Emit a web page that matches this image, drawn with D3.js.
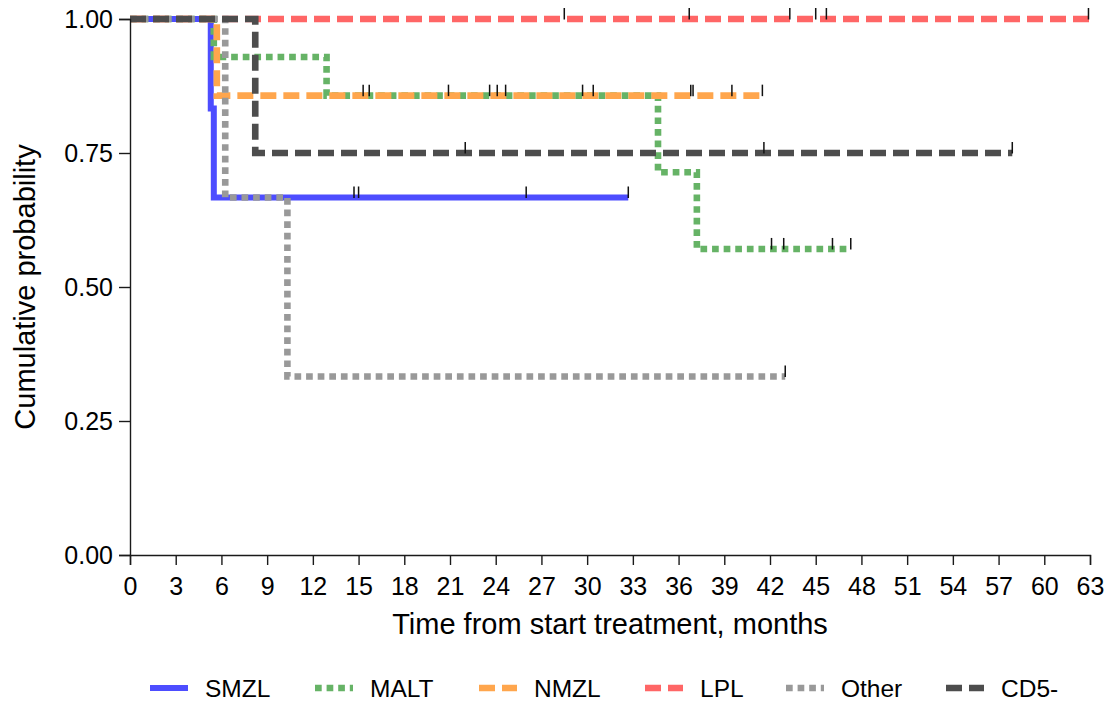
<!DOCTYPE html>
<html><head><meta charset="utf-8">
<script src="https://cdn.jsdelivr.net/npm/d3@7"></script>
<style>
html,body{margin:0;padding:0;background:#fff;}
text{font-family:"Liberation Sans",Arial,sans-serif;fill:#000;}
</style></head>
<body><svg id="chart" width="1110" height="704"></svg>
<script>
// ---- data ----
const groupNames = ["SMZL", "MALT", "NMZL", "LPL", "Other", "CD5-"];
const groupColors = ["#4d4dff", "#66b366", "#ffa64d", "#ff6666", "#999999", "#4d4d4d"];
const groupDash = ["solid", "dotted", "dashed", "dashed", "dotted", "dashed"];

// step points: [time, survival after time]
const smzlSteps = [[0, 1], [5.3, 0.833], [5.5, 0.667]];
const maltSteps = [[0, 1], [5.5, 0.929], [12.9, 0.857], [34.65, 0.714], [37.2, 0.571]];
const nmzlSteps = [[0, 1], [5.7, 0.857]];
const lplSteps = [[0, 1]];
const otherSteps = [[0, 1], [6.25, 0.667], [10.33, 0.333]];
const cd5Steps = [[0, 1], [8.22, 0.75]];

const smzlEnd = 32.7, maltEnd = 47.3, nmzlEnd = 41.5, lplEnd = 63, otherEnd = 43.0, cd5End = 57.9;

// censor times
const smzlCensor = [14.7, 15.0, 26.0, 32.7];
const maltCensor = [15.3, 20.9, 23.6, 24.65, 29.7, 30.4, 42.1, 42.9, 46.1, 47.3];
const nmzlCensor = [15.7, 24.1, 36.8, 36.95, 39.5, 41.5];
const lplCensor = [28.5, 36.7, 43.3, 45.0, 45.7, 62.9];
const otherCensor = [43.0];
const cd5Censor = [22.0, 41.6, 57.9];

const xTicks = d3.range(0, 64, 3);
const yTicks = [0, 0.25, 0.5, 0.75, 1];
const xTitle = "Time from start treatment, months";
const yTitle = "Cumulative probability";

const groups = [
  {steps: smzlSteps, end: smzlEnd, censor: smzlCensor},
  {steps: maltSteps, end: maltEnd, censor: maltCensor},
  {steps: nmzlSteps, end: nmzlEnd, censor: nmzlCensor},
  {steps: lplSteps, end: lplEnd, censor: lplCensor},
  {steps: otherSteps, end: otherEnd, censor: otherCensor},
  {steps: cd5Steps, end: cd5End, censor: cd5Censor}
].map((g, i) => Object.assign(g, {name: groupNames[i], color: groupColors[i], dash: groupDash[i]}));

// ---- layout ----
const svg = d3.select("#chart");
const pLeft = 130, pRight = 1090, pTop = 19, pBottom = 555;
const x = d3.scaleLinear().domain([0, 63]).range([pLeft, pRight]);
const y = d3.scaleLinear().domain([0, 1]).range([pBottom, pTop]);

function dashArray(d) {
  if (d === "dashed") return "16 7";
  if (d === "dotted") return "6.7 4.9";
  return null;
}
function survAt(g, t) {
  let s = 1;
  g.steps.forEach(p => { if (p[0] <= t) s = p[1]; });
  return s;
}
function stepPoints(g) {
  const pts = [];
  g.steps.forEach((p, i) => {
    if (i > 0) pts.push([p[0], g.steps[i - 1][1]]);
    pts.push(p);
  });
  pts.push([g.end, g.steps[g.steps.length - 1][1]]);
  return pts;
}

const line = d3.line().x(d => x(d[0])).y(d => y(d[1]));

// curves
const curveG = svg.append("g");
groups.forEach(g => {
  curveG.append("path")
    .datum(stepPoints(g))
    .attr("d", line)
    .attr("fill", "none")
    .attr("stroke", g.color)
    .attr("stroke-width", g.dash === "solid" ? 6 : 6.6)
    .attr("stroke-linecap", "butt")
    .attr("stroke-linejoin", "miter")
    .attr("stroke-dasharray", dashArray(g.dash));
});

// censor marks
const censG = svg.append("g");
groups.forEach(g => {
  g.censor.forEach(t => {
    const s = survAt(g, t);
    censG.append("line")
      .attr("x1", x(t)).attr("x2", x(t))
      .attr("y1", y(s) - 11).attr("y2", y(s) + 0.5)
      .attr("stroke", "#111").attr("stroke-width", 1.5);
  });
});

// axes
const yAxis = svg.append("g").attr("transform", `translate(${pLeft},0)`)
  .call(d3.axisLeft(y).tickValues(yTicks).tickFormat(d3.format(".2f")).tickSize(11).tickPadding(6));
const xAxis = svg.append("g").attr("transform", `translate(0,${pBottom})`)
  .call(d3.axisBottom(x).tickValues(xTicks).tickSize(10).tickPadding(12));
[yAxis, xAxis].forEach(a => {
  a.select(".domain").attr("stroke", "#1a1a1a").attr("stroke-width", 1.4);
  a.selectAll(".tick line").attr("stroke", "#1a1a1a").attr("stroke-width", 1.4);
  a.selectAll(".tick text").attr("font-size", 25).attr("fill", "#000")
    .attr("font-family", "Liberation Sans, Arial, sans-serif");
});

// titles
svg.append("text").attr("x", (pLeft + pRight) / 2).attr("y", 634)
  .attr("text-anchor", "middle").attr("font-size", 29).text(xTitle);
svg.append("text").attr("transform", `translate(35,${(pTop + pBottom) / 2}) rotate(-90)`)
  .attr("text-anchor", "middle").attr("font-size", 29).text(yTitle);

// legend
const legX = [150, 315, 479, 645, 786, 946];
const legY = 688;
const leg = svg.append("g");
groups.forEach((g, i) => {
  leg.append("line")
    .attr("x1", legX[i]).attr("x2", legX[i] + 38)
    .attr("y1", legY).attr("y2", legY)
    .attr("stroke", g.color)
    .attr("stroke-width", g.dash === "solid" ? 6 : 6.6)
    .attr("stroke-dasharray", dashArray(g.dash));
  leg.append("text").attr("x", legX[i] + 55).attr("y", legY + 9)
    .attr("font-size", 24.5).text(g.name);
});
</script>
</body></html>
